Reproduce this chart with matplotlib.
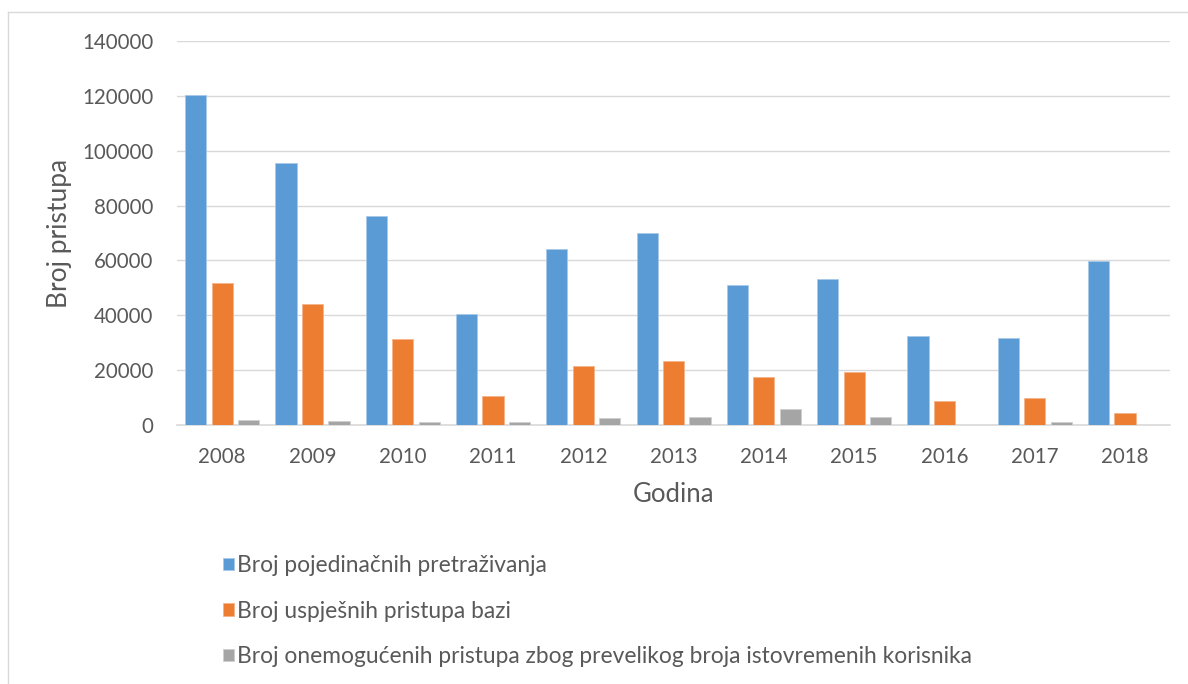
import numpy as np
import matplotlib
matplotlib.use('Agg')
import matplotlib.pyplot as plt
from matplotlib.lines import Line2D

# Podaci
godine = ['2008', '2009', '2010', '2011', '2012', '2013', '2014', '2015', '2016', '2017', '2018']
pretrazivanja = [120300, 95600, 76200, 40600, 64300, 70100, 51200, 53200, 32300, 31800, 59800]
uspjesni = [51600, 44100, 31400, 10600, 21500, 23200, 17600, 19200, 8600, 9800, 4400]
onemoguceni = [1900, 1350, 1000, 1200, 2650, 2800, 5800, 2800, 0, 1100, 0]

serije = ['Broj pojedinačnih pretraživanja',
          'Broj uspješnih pristupa bazi',
          'Broj onemogućenih pristupa zbog prevelikog broja istovremenih korisnika']
boje = ['#5B9BD5', '#ED7D31', '#A5A5A5']
rubovi = ['#A9C9E8', '#F5B48A', '#CFCFCF']

plt.rcParams['font.family'] = ['Lato', 'DejaVu Sans']
tekst = '#595959'
mreza = '#D9D9D9'

fig = plt.figure(figsize=(11.88, 6.84), dpi=100)
ax = fig.add_axes([0.149, 0.3787, 0.836, 0.5613])

x = np.arange(len(godine))
sirina = 0.235
pomak = 0.293
for i, vrijednosti in enumerate([pretrazivanja, uspjesni, onemoguceni]):
    ax.bar(x + (i - 1) * pomak, vrijednosti, width=sirina, color=boje[i],
           edgecolor=rubovi[i], linewidth=0.6, label=serije[i], zorder=3)

ax.set_xlim(-0.5, len(godine) - 0.5)
ax.set_ylim(0, 140000)
ax.set_yticks(np.arange(0, 140001, 20000))
ax.set_xticks(x)
ax.set_xticklabels(godine)
ax.yaxis.grid(True, color=mreza, linewidth=1.0, zorder=0)
ax.tick_params(axis='both', length=0, labelsize=14.8, colors=tekst)
ax.tick_params(axis='y', pad=17)
ax.tick_params(axis='x', pad=16)
for s in ['top', 'right', 'left']:
    ax.spines[s].set_visible(False)
ax.spines['bottom'].set_color(mreza)
ax.spines['bottom'].set_linewidth(1.2)

ax.set_ylabel('Broj pristupa', fontsize=19, color=tekst, labelpad=7)
ax.set_xlabel('Godina', fontsize=18.5, color=tekst, labelpad=11)

leg = fig.legend(loc='upper left', bbox_to_anchor=(0.188, 0.1886), frameon=False,
                 fontsize=16.4, handlelength=0.47, handleheight=0.47, handletextpad=0.15,
                 labelspacing=1.08, borderpad=0, borderaxespad=0)
for t in leg.get_texts():
    t.set_color(tekst)

# okvir grafikona
fig.add_artist(Line2D([7.5 / 1188, 1.0], [1 - 11.5 / 684] * 2, color=mreza, linewidth=1.0))
fig.add_artist(Line2D([7.5 / 1188] * 2, [0, 1 - 11.5 / 684], color=mreza, linewidth=1.0))

fig.savefig('out.png', dpi=100, facecolor='white')
